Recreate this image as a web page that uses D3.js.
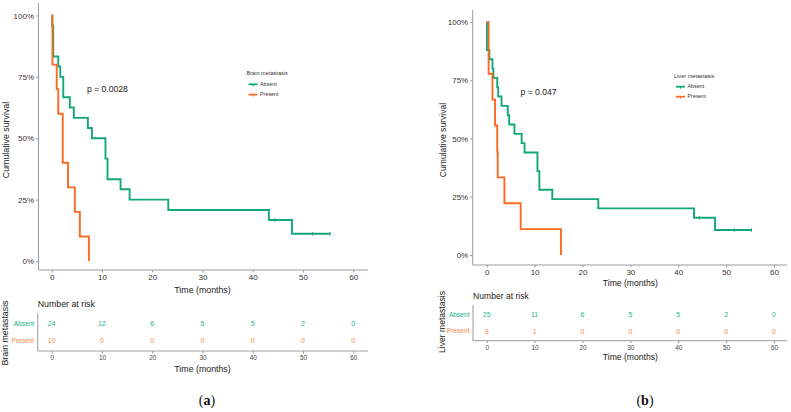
<!DOCTYPE html>
<html>
<head>
<meta charset="utf-8">
<script src="https://cdn.jsdelivr.net/npm/d3@7/dist/d3.min.js"></script>
<style>
html,body{margin:0;padding:0;background:#fff;}
svg{display:block;font-family:"Liberation Sans",Arial,sans-serif;}
</style>
</head>
<body>
<svg id="chart" width="791" height="412"></svg>
<script>
// ---------- DATA ----------
const timeTicks = [0, 10, 20, 30, 40, 50, 60];
const survTicks = [0, 0.25, 0.5, 0.75, 1];
const survTickLabels = ["0%", "25%", "50%", "75%", "100%"];
const groups = ["Absent", "Present"];

// Panel (a): brain metastasis
const brainAbsentTime = [0, 0.1, 0.3, 1.3, 1.7, 2.3, 3.6, 4.4, 7.2, 8.0, 10.7, 11.1, 13.7, 15.5, 23.2, 43.2, 47.8, 55.4];
const brainAbsentSurv = [1, 0.958, 0.833, 0.792, 0.75, 0.667, 0.625, 0.583, 0.542, 0.5, 0.417, 0.333, 0.292, 0.25, 0.208, 0.167, 0.111, 0.111];
const brainAbsentCensor = [44.4, 51.9, 55.4];
const brainPresentTime = [0, 0.15, 1.0, 1.3, 2.2, 3.25, 4.6, 5.6, 7.4];
const brainPresentSurv = [1, 0.8, 0.7, 0.6, 0.4, 0.3, 0.2, 0.1, 0];
const brainPresentCensor = [];
const brainRiskAbsent = [24, 12, 6, 5, 5, 2, 0];
const brainRiskPresent = [10, 0, 0, 0, 0, 0, 0];
const brainPValue = "p = 0.0028";
const brainTitle = "Brain metastasis";

// Panel (b): liver metastasis
const liverAbsentTime = [0, 0.05, 0.56, 1.2, 1.4, 2.2, 2.4, 3.1, 4.4, 4.7, 5.8, 7.3, 7.9, 10.6, 11.0, 13.7, 23.3, 43.3, 47.7, 55.3];
const liverAbsentSurv = [1, 0.88, 0.84, 0.80, 0.76, 0.72, 0.68, 0.64, 0.60, 0.56, 0.52, 0.48, 0.44, 0.36, 0.28, 0.24, 0.20, 0.16, 0.107, 0.107];
const liverAbsentCensor = [44.4, 51.7, 55.3];
const liverPresentTime = [0, 0.4, 1.2, 1.75, 2.2, 2.3, 3.7, 7.1, 15.5];
const liverPresentSurv = [1, 0.778, 0.667, 0.556, 0.444, 0.333, 0.222, 0.111, 0];
const liverPresentCensor = [];
const liverRiskAbsent = [25, 11, 6, 5, 5, 2, 0];
const liverRiskPresent = [9, 1, 0, 0, 0, 0, 0];
const liverPValue = "p = 0.047";
const liverTitle = "Liver metastasis";

// ---------- STYLE ----------
const colors = {Absent: "#13a77c", Present: "#f96a24"};
const textColors = {Absent: "#22b58c", Present: "#f98a48"};
const axisColor = "#9a9a9a";

const svg = d3.select("#chart");

function zip(t, s) { return t.map((d, i) => ({t: d, s: s[i]})); }

function drawPanel(cfg) {
  const g = svg.append("g");
  const x = d3.scaleLinear().domain([0, 60]).range([cfg.x0, cfg.x60]);
  const y = d3.scaleLinear().domain([0, 1]).range([cfg.y0, cfg.y1]);

  // axis lines
  g.append("line").attr("x1", cfg.axX).attr("x2", cfg.axX).attr("y1", cfg.axTop).attr("y2", cfg.axY)
    .attr("stroke", axisColor).attr("stroke-width", 1);
  g.append("line").attr("x1", cfg.axX).attr("x2", cfg.axRight).attr("y1", cfg.axY).attr("y2", cfg.axY)
    .attr("stroke", axisColor).attr("stroke-width", 1);

  // y axis ticks
  const ya = d3.axisLeft(y).tickValues(survTicks).tickFormat((d, i) => survTickLabels[i]).tickSize(2.5).tickPadding(2);
  const yg = g.append("g").attr("transform", `translate(${cfg.axX},0)`).call(ya);
  yg.select(".domain").remove();
  yg.selectAll("line").attr("stroke", axisColor);
  yg.selectAll("text").attr("font-size", cfg.tickFs).attr("fill", "#333").attr("font-family", "Liberation Sans, Arial, sans-serif");

  // x axis ticks
  const xa = d3.axisBottom(x).tickValues(timeTicks).tickSize(2.5).tickPadding(2);
  const xg = g.append("g").attr("transform", `translate(0,${cfg.axY})`).call(xa);
  xg.select(".domain").remove();
  xg.selectAll("line").attr("stroke", axisColor);
  xg.selectAll("text").attr("font-size", cfg.tickFs).attr("fill", "#333").attr("font-family", "Liberation Sans, Arial, sans-serif");

  // titles
  g.append("text").attr("x", (cfg.x0 + cfg.x60) / 2).attr("y", cfg.xTitleY).attr("text-anchor", "middle")
    .attr("font-size", cfg.titleFs).attr("fill", "#222").text("Time (months)");
  g.append("text").attr("transform", `translate(${cfg.yTitleX},${cfg.yTitleY}) rotate(-90)`).attr("text-anchor", "middle")
    .attr("font-size", cfg.titleFs).attr("fill", "#222").text("Cumulative survival");

  // curves
  const line = d3.line().x(d => x(d.t)).y(d => y(d.s)).curve(d3.curveStepAfter);
  cfg.series.forEach(s => {
    const pts = zip(s.time, s.surv);
    g.append("path").datum(pts).attr("d", line).attr("fill", "none")
      .attr("stroke", colors[s.name]).attr("stroke-width", 1.9).attr("stroke-linejoin", "miter");
    // censor marks
    const stepS = t => { let v = 1; pts.forEach(p => { if (p.t <= t) v = p.s; }); return v; };
    s.censor.forEach(c => {
      g.append("line").attr("x1", x(c)).attr("x2", x(c)).attr("y1", y(stepS(c)) - 1.8).attr("y2", y(stepS(c)) + 1.8)
        .attr("stroke", colors[s.name]).attr("stroke-width", 0.9);
    });
  });

  // p value
  g.append("text").attr("x", cfg.pX).attr("y", cfg.pY).attr("dominant-baseline", "middle")
    .attr("font-size", cfg.pFs).attr("fill", "#222").text(cfg.pText);

  // legend
  g.append("text").attr("x", cfg.legX).attr("y", cfg.legY).attr("dominant-baseline", "middle")
    .attr("font-size", 5.6).attr("fill", "#333").text(cfg.legTitle);
  groups.forEach((name, i) => {
    const ly = cfg.legY + cfg.legGap * (i + 1);
    g.append("line").attr("x1", cfg.legX + 2).attr("x2", cfg.legX + 11).attr("y1", ly).attr("y2", ly)
      .attr("stroke", colors[name]).attr("stroke-width", 1.8);
    g.append("line").attr("x1", cfg.legX + 6.5).attr("x2", cfg.legX + 6.5).attr("y1", ly).attr("y2", ly + 2)
      .attr("stroke", colors[name]).attr("stroke-width", 1);
    g.append("text").attr("x", cfg.legX + 13.5).attr("y", ly).attr("dominant-baseline", "middle")
      .attr("font-size", 5.4).attr("fill", "#333").text(name);
  });

  // risk table
  const rx = cfg.riskX;
  g.append("text").attr("x", rx).attr("y", cfg.riskTitleY).attr("dominant-baseline", "middle")
    .attr("font-size", cfg.titleFs).attr("fill", "#222").text("Number at risk");
  g.append("line").attr("x1", rx).attr("x2", rx).attr("y1", cfg.riskTop).attr("y2", cfg.riskAxY)
    .attr("stroke", axisColor).attr("stroke-width", 1);
  g.append("line").attr("x1", rx).attr("x2", cfg.axRight).attr("y1", cfg.riskAxY).attr("y2", cfg.riskAxY)
    .attr("stroke", axisColor).attr("stroke-width", 1);
  const rxa = d3.axisBottom(x).tickValues(timeTicks).tickSize(2.5).tickPadding(2);
  const rg = g.append("g").attr("transform", `translate(0,${cfg.riskAxY})`).call(rxa);
  rg.select(".domain").remove();
  rg.selectAll("line").attr("stroke", axisColor);
  rg.selectAll("text").attr("font-size", 6.4).attr("fill", "#444").attr("font-family", "Liberation Sans, Arial, sans-serif");
  g.append("text").attr("x", (cfg.x0 + cfg.x60) / 2).attr("y", cfg.riskXTitleY).attr("text-anchor", "middle")
    .attr("font-size", cfg.titleFs).attr("fill", "#222").text("Time (months)");

  const rows = [cfg.riskAbsent, cfg.riskPresent];
  groups.forEach((name, i) => {
    const ry = cfg.riskRowY[i];
    g.append("text").attr("x", rx - 3.5).attr("y", ry).attr("text-anchor", "end").attr("dominant-baseline", "middle")
      .attr("font-size", 6.6).attr("fill", textColors[name]).text(name);
    g.selectAll(null).data(rows[i]).enter().append("text")
      .attr("x", (d, j) => x(timeTicks[j])).attr("y", ry).attr("text-anchor", "middle").attr("dominant-baseline", "middle")
      .attr("font-size", 7).attr("fill", textColors[name]).text(d => d);
  });
  g.append("text").attr("transform", `translate(${cfg.riskYTitleX},${cfg.riskYTitleY}) rotate(-90)`).attr("text-anchor", "middle")
    .attr("font-size", cfg.titleFs).attr("fill", "#222").text(cfg.legTitle);

  // panel label
  const lab = g.append("text").attr("x", cfg.labX).attr("y", cfg.labY).attr("text-anchor", "middle")
    .attr("dominant-baseline", "middle").attr("font-family", "Liberation Serif, Times New Roman, serif")
    .attr("font-size", 14).attr("fill", "#111");
  lab.append("tspan").text("(");
  lab.append("tspan").attr("font-weight", "bold").text(cfg.label);
  lab.append("tspan").text(")");
}

drawPanel({
  x0: 51.7, x60: 353.3, y0: 261, y1: 15.5,
  axX: 38.5, axTop: 3, axY: 270, axRight: 368,
  tickFs: 8, titleFs: 8.8, pFs: 8.6,
  xTitleY: 293, yTitleX: 9, yTitleY: 140,
  pX: 87, pY: 90, pText: brainPValue,
  legX: 246.5, legY: 74, legGap: 10.3, legTitle: brainTitle,
  riskX: 37.7, riskTitleY: 305, riskTop: 313, riskAxY: 351, riskRowY: [324, 341],
  riskXTitleY: 372, riskYTitleX: 8, riskYTitleY: 333,
  riskAbsent: brainRiskAbsent, riskPresent: brainRiskPresent,
  labX: 207, labY: 402, label: "a",
  series: [
    {name: "Absent", time: brainAbsentTime, surv: brainAbsentSurv, censor: brainAbsentCensor},
    {name: "Present", time: brainPresentTime, surv: brainPresentSurv, censor: brainPresentCensor}
  ]
});

drawPanel({
  x0: 486.7, x60: 774, y0: 255, y1: 22,
  axX: 472.7, axTop: 10, axY: 265, axRight: 787,
  tickFs: 8, titleFs: 8.6, pFs: 8.6,
  xTitleY: 286, yTitleX: 445.5, yTitleY: 140,
  pX: 520.5, pY: 92.5, pText: liverPValue,
  legX: 674, legY: 76.7, legGap: 10, legTitle: liverTitle,
  riskX: 473, riskTitleY: 297, riskTop: 305, riskAxY: 340.7, riskRowY: [315, 331.7],
  riskXTitleY: 360, riskYTitleX: 444.5, riskYTitleY: 322,
  riskAbsent: liverRiskAbsent, riskPresent: liverRiskPresent,
  labX: 645, labY: 402, label: "b",
  series: [
    {name: "Absent", time: liverAbsentTime, surv: liverAbsentSurv, censor: liverAbsentCensor},
    {name: "Present", time: liverPresentTime, surv: liverPresentSurv, censor: liverPresentCensor}
  ]
});
</script>
</body>
</html>
